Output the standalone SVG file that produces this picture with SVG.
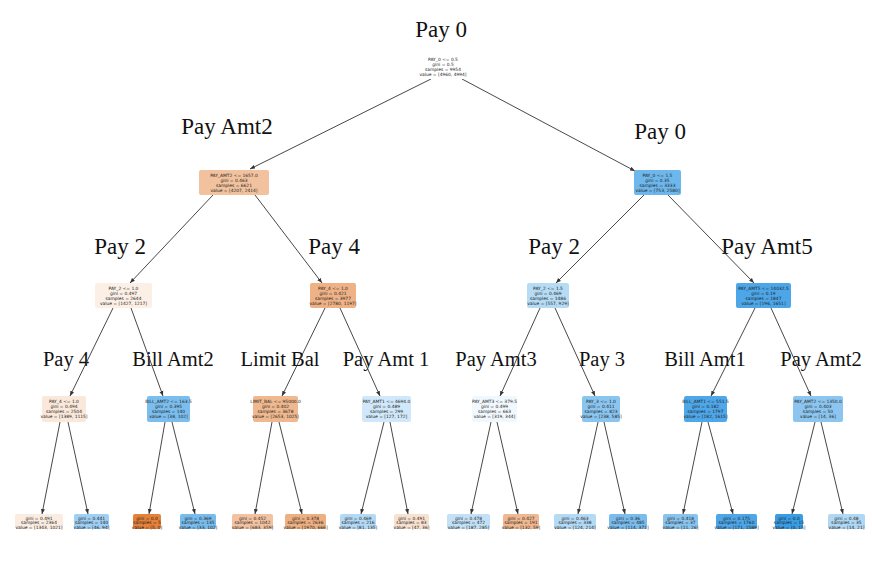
<svg xmlns="http://www.w3.org/2000/svg" width="872" height="584" viewBox="0 0 872 584">
<style>
.t{font-family:"Liberation Serif","DejaVu Serif",serif;font-size:23px;fill:#111;text-anchor:middle}
.s{font-size:20.5px}
.n{font-family:"DejaVu Sans","Liberation Sans",sans-serif;font-size:4.4px;fill:#222;text-anchor:middle}
.e{stroke:#333;stroke-width:0.9;fill:none;marker-end:url(#ah)}
</style>
<defs>
<marker id="ah" viewBox="0 0 10 10" refX="10" refY="5" markerWidth="5" markerHeight="5" orient="auto" markerUnits="userSpaceOnUse">
<path d="M0,1 L10,5 L0,9 z" fill="#333"/>
</marker>
</defs>
<rect width="872" height="584" fill="#ffffff"/>
<g id="titles">
<text class="t" x="441" y="37">Pay 0</text>
<text class="t" x="227" y="134">Pay Amt2</text>
<text class="t" x="660" y="139">Pay 0</text>
<text class="t" x="120" y="254">Pay 2</text>
<text class="t" x="334" y="254">Pay 4</text>
<text class="t" x="554" y="254">Pay 2</text>
<text class="t" x="767" y="254">Pay Amt5</text>
<text class="t s" x="66" y="366">Pay 4</text>
<text class="t s" x="173" y="366">Bill Amt2</text>
<text class="t s" x="280" y="366">Limit Bal</text>
<text class="t s" x="386" y="366">Pay Amt 1</text>
<text class="t s" x="496" y="366">Pay Amt3</text>
<text class="t s" x="602" y="366">Pay 3</text>
<text class="t s" x="705" y="366">Bill Amt1</text>
<text class="t s" x="821" y="366">Pay Amt2</text>
</g>
<g id="connectors">
<line class="e" x1="431" y1="79" x2="250" y2="169"/>
<line class="e" x1="462" y1="79" x2="635" y2="171"/>
<line class="e" x1="213" y1="195" x2="130" y2="283"/>
<line class="e" x1="255" y1="195" x2="322" y2="283"/>
<line class="e" x1="644" y1="195" x2="556" y2="283"/>
<line class="e" x1="668" y1="195" x2="754" y2="283"/>
<line class="e" x1="113" y1="308" x2="70" y2="396"/>
<line class="e" x1="131" y1="308" x2="163" y2="396"/>
<line class="e" x1="325" y1="308" x2="282" y2="396"/>
<line class="e" x1="340" y1="308" x2="380" y2="396"/>
<line class="e" x1="540" y1="308" x2="500" y2="396"/>
<line class="e" x1="555" y1="308" x2="595" y2="396"/>
<line class="e" x1="755" y1="308" x2="711" y2="396"/>
<line class="e" x1="771" y1="308" x2="811" y2="396"/>
<line class="e" x1="60" y1="422" x2="42" y2="514"/>
<line class="e" x1="68" y1="422" x2="88" y2="514"/>
<line class="e" x1="165" y1="422" x2="149" y2="514"/>
<line class="e" x1="172" y1="422" x2="195" y2="514"/>
<line class="e" x1="272" y1="422" x2="255" y2="514"/>
<line class="e" x1="279" y1="422" x2="302" y2="514"/>
<line class="e" x1="384" y1="422" x2="361" y2="514"/>
<line class="e" x1="390" y1="422" x2="408" y2="514"/>
<line class="e" x1="491" y1="422" x2="471" y2="514"/>
<line class="e" x1="497" y1="422" x2="518" y2="514"/>
<line class="e" x1="598" y1="422" x2="578" y2="514"/>
<line class="e" x1="604" y1="422" x2="625" y2="514"/>
<line class="e" x1="702" y1="422" x2="683" y2="514"/>
<line class="e" x1="708" y1="422" x2="733" y2="514"/>
<line class="e" x1="815" y1="422" x2="792" y2="514"/>
<line class="e" x1="821" y1="422" x2="843" y2="514"/>
</g>
<g id="n0"><rect x="418" y="55" width="50" height="24" rx="2" fill="#ffffff"/>
<text class="n" x="443" y="61">PAY_0 &lt;= 0.5</text><text class="n" x="443" y="66">gini = 0.5</text><text class="n" x="443" y="71">samples = 9954</text><text class="n" x="443" y="76">value = [4960, 4994]</text></g>
<g id="n1"><rect x="199" y="170" width="70" height="25" rx="2" fill="#f2c29f"/>
<text class="n" x="234" y="176.5">PAY_AMT2 &lt;= 1657.0</text><text class="n" x="234" y="181.5">gini = 0.463</text><text class="n" x="234" y="186.5">samples = 6621</text><text class="n" x="234" y="191.5">value = [4207, 2414]</text></g>
<g id="n2"><rect x="634" y="170" width="47" height="25" rx="2" fill="#6db7ec"/>
<text class="n" x="657.5" y="176.5">PAY_0 &lt;= 1.5</text><text class="n" x="657.5" y="181.5">gini = 0.35</text><text class="n" x="657.5" y="186.5">samples = 3333</text><text class="n" x="657.5" y="191.5">value = [753, 2580]</text></g>
<g id="n3"><rect x="95" y="283" width="57" height="25" rx="2" fill="#fbefe6"/>
<text class="n" x="123.5" y="289.5">PAY_2 &lt;= 1.0</text><text class="n" x="123.5" y="294.5">gini = 0.497</text><text class="n" x="123.5" y="299.5">samples = 2644</text><text class="n" x="123.5" y="304.5">value = [1427, 1217]</text></g>
<g id="n4"><rect x="310" y="283" width="46" height="25" rx="2" fill="#efb286"/>
<text class="n" x="333" y="289.5">PAY_4 &lt;= 1.0</text><text class="n" x="333" y="294.5">gini = 0.421</text><text class="n" x="333" y="299.5">samples = 3977</text><text class="n" x="333" y="304.5">value = [2780, 1197]</text></g>
<g id="n5"><rect x="527" y="283" width="42" height="25" rx="2" fill="#b6dbf5"/>
<text class="n" x="548" y="289.5">PAY_2 &lt;= 1.5</text><text class="n" x="548" y="294.5">gini = 0.469</text><text class="n" x="548" y="299.5">samples = 1486</text><text class="n" x="548" y="304.5">value = [557, 929]</text></g>
<g id="n6"><rect x="736" y="283" width="55" height="25" rx="2" fill="#4ca6e8"/>
<text class="n" x="763.5" y="289.5">PAY_AMT5 &lt;= 14032.5</text><text class="n" x="763.5" y="294.5">gini = 0.19</text><text class="n" x="763.5" y="299.5">samples = 1847</text><text class="n" x="763.5" y="304.5">value = [196, 1651]</text></g>
<g id="n7"><rect x="42" y="396" width="44" height="26" rx="2" fill="#fae8da"/>
<text class="n" x="64" y="402.5">PAY_4 &lt;= 1.0</text><text class="n" x="64" y="407.5">gini = 0.494</text><text class="n" x="64" y="412.5">samples = 2504</text><text class="n" x="64" y="417.5">value = [1389, 1115]</text></g>
<g id="n8"><rect x="147" y="396" width="43" height="26" rx="2" fill="#7bbeee"/>
<text class="n" x="168.5" y="402.5">BILL_AMT2 &lt;= 163.5</text><text class="n" x="168.5" y="407.5">gini = 0.395</text><text class="n" x="168.5" y="412.5">samples = 140</text><text class="n" x="168.5" y="417.5">value = [38, 102]</text></g>
<g id="n9"><rect x="253" y="396" width="45" height="26" rx="2" fill="#f0b88f"/>
<text class="n" x="275.5" y="402.5">LIMIT_BAL &lt;= 95000.0</text><text class="n" x="275.5" y="407.5">gini = 0.402</text><text class="n" x="275.5" y="412.5">samples = 3678</text><text class="n" x="275.5" y="417.5">value = [2653, 1025]</text></g>
<g id="n10"><rect x="362" y="396" width="49" height="26" rx="2" fill="#d0e8f9"/>
<text class="n" x="386.5" y="402.5">PAY_AMT1 &lt;= 4694.0</text><text class="n" x="386.5" y="407.5">gini = 0.489</text><text class="n" x="386.5" y="412.5">samples = 299</text><text class="n" x="386.5" y="417.5">value = [127, 172]</text></g>
<g id="n11"><rect x="472" y="396" width="45" height="26" rx="2" fill="#f1f8fd"/>
<text class="n" x="494.5" y="402.5">PAY_AMT3 &lt;= 379.5</text><text class="n" x="494.5" y="407.5">gini = 0.499</text><text class="n" x="494.5" y="412.5">samples = 663</text><text class="n" x="494.5" y="417.5">value = [319, 344]</text></g>
<g id="n12"><rect x="582" y="396" width="38" height="26" rx="2" fill="#8ac5f0"/>
<text class="n" x="601" y="402.5">PAY_3 &lt;= 1.0</text><text class="n" x="601" y="407.5">gini = 0.411</text><text class="n" x="601" y="412.5">samples = 823</text><text class="n" x="601" y="417.5">value = [238, 585]</text></g>
<g id="n13"><rect x="684" y="396" width="43" height="26" rx="2" fill="#4ea7e8"/>
<text class="n" x="705.5" y="402.5">BILL_AMT1 &lt;= 551.5</text><text class="n" x="705.5" y="407.5">gini = 0.182</text><text class="n" x="705.5" y="412.5">samples = 1797</text><text class="n" x="705.5" y="417.5">value = [182, 1615]</text></g>
<g id="n14"><rect x="793" y="396" width="50" height="26" rx="2" fill="#8cc6f0"/>
<text class="n" x="818" y="402.5">PAY_AMT2 &lt;= 1350.0</text><text class="n" x="818" y="407.5">gini = 0.403</text><text class="n" x="818" y="412.5">samples = 50</text><text class="n" x="818" y="417.5">value = [14, 36]</text></g>
<g id="l1"><rect x="15" y="514" width="48" height="15" rx="2" fill="#fbece1"/>
<text class="n" x="39" y="519.5">gini = 0.491</text><text class="n" x="39" y="524">samples = 2364</text><text class="n" x="39" y="528.5">value = [1343, 1021]</text></g>
<g id="l2"><rect x="74" y="514" width="35" height="15" rx="2" fill="#9fcff2"/>
<text class="n" x="91.5" y="519.5">gini = 0.441</text><text class="n" x="91.5" y="524">samples = 140</text><text class="n" x="91.5" y="528.5">value = [46, 94]</text></g>
<g id="l3"><rect x="133" y="514" width="28" height="15" rx="2" fill="#e58139"/>
<text class="n" x="147" y="519.5">gini = 0.0</text><text class="n" x="147" y="524">samples = 5</text><text class="n" x="147" y="528.5">value = [5, 0]</text></g>
<g id="l4"><rect x="180" y="514" width="36" height="15" rx="2" fill="#78bced"/>
<text class="n" x="198" y="519.5">gini = 0.369</text><text class="n" x="198" y="524">samples = 135</text><text class="n" x="198" y="528.5">value = [33, 102]</text></g>
<g id="l5"><rect x="232" y="514" width="41" height="15" rx="2" fill="#f3c3a1"/>
<text class="n" x="252.5" y="519.5">gini = 0.452</text><text class="n" x="252.5" y="524">samples = 1042</text><text class="n" x="252.5" y="528.5">value = [683, 359]</text></g>
<g id="l6"><rect x="285" y="514" width="41" height="15" rx="2" fill="#eeaf81"/>
<text class="n" x="305.5" y="519.5">gini = 0.378</text><text class="n" x="305.5" y="524">samples = 2636</text><text class="n" x="305.5" y="528.5">value = [1970, 666]</text></g>
<g id="l7"><rect x="340" y="514" width="36" height="15" rx="2" fill="#b3d9f5"/>
<text class="n" x="358" y="519.5">gini = 0.469</text><text class="n" x="358" y="524">samples = 216</text><text class="n" x="358" y="528.5">value = [81, 135]</text></g>
<g id="l8"><rect x="394" y="514" width="35" height="15" rx="2" fill="#f9e1d0"/>
<text class="n" x="411.5" y="519.5">gini = 0.491</text><text class="n" x="411.5" y="524">samples = 83</text><text class="n" x="411.5" y="528.5">value = [47, 36]</text></g>
<g id="l9"><rect x="447" y="514" width="43" height="15" rx="2" fill="#c2e1f7"/>
<text class="n" x="468.5" y="519.5">gini = 0.478</text><text class="n" x="468.5" y="524">samples = 472</text><text class="n" x="468.5" y="528.5">value = [187, 285]</text></g>
<g id="l10"><rect x="503" y="514" width="36" height="15" rx="2" fill="#f0b890"/>
<text class="n" x="521" y="519.5">gini = 0.427</text><text class="n" x="521" y="524">samples = 191</text><text class="n" x="521" y="528.5">value = [132, 59]</text></g>
<g id="l11"><rect x="554" y="514" width="42" height="15" rx="2" fill="#b5daf5"/>
<text class="n" x="575" y="519.5">gini = 0.463</text><text class="n" x="575" y="524">samples = 338</text><text class="n" x="575" y="528.5">value = [124, 214]</text></g>
<g id="l12"><rect x="609" y="514" width="38" height="15" rx="2" fill="#79bced"/>
<text class="n" x="628" y="519.5">gini = 0.36</text><text class="n" x="628" y="524">samples = 485</text><text class="n" x="628" y="528.5">value = [114, 371]</text></g>
<g id="l13"><rect x="663" y="514" width="35" height="15" rx="2" fill="#89c4ef"/>
<text class="n" x="680.5" y="519.5">gini = 0.418</text><text class="n" x="680.5" y="524">samples = 37</text><text class="n" x="680.5" y="528.5">value = [11, 26]</text></g>
<g id="l14"><rect x="716" y="514" width="41" height="15" rx="2" fill="#4ca6e7"/>
<text class="n" x="736.5" y="519.5">gini = 0.175</text><text class="n" x="736.5" y="524">samples = 1760</text><text class="n" x="736.5" y="528.5">value = [171, 1589]</text></g>
<g id="l15"><rect x="775" y="514" width="28" height="15" rx="2" fill="#399de5"/>
<text class="n" x="789" y="519.5">gini = 0.0</text><text class="n" x="789" y="524">samples = 15</text><text class="n" x="789" y="528.5">value = [0, 15]</text></g>
<g id="l16"><rect x="828" y="514" width="37" height="15" rx="2" fill="#b0d8f5"/>
<text class="n" x="846.5" y="519.5">gini = 0.48</text><text class="n" x="846.5" y="524">samples = 35</text><text class="n" x="846.5" y="528.5">value = [14, 21]</text></g>
</svg>
